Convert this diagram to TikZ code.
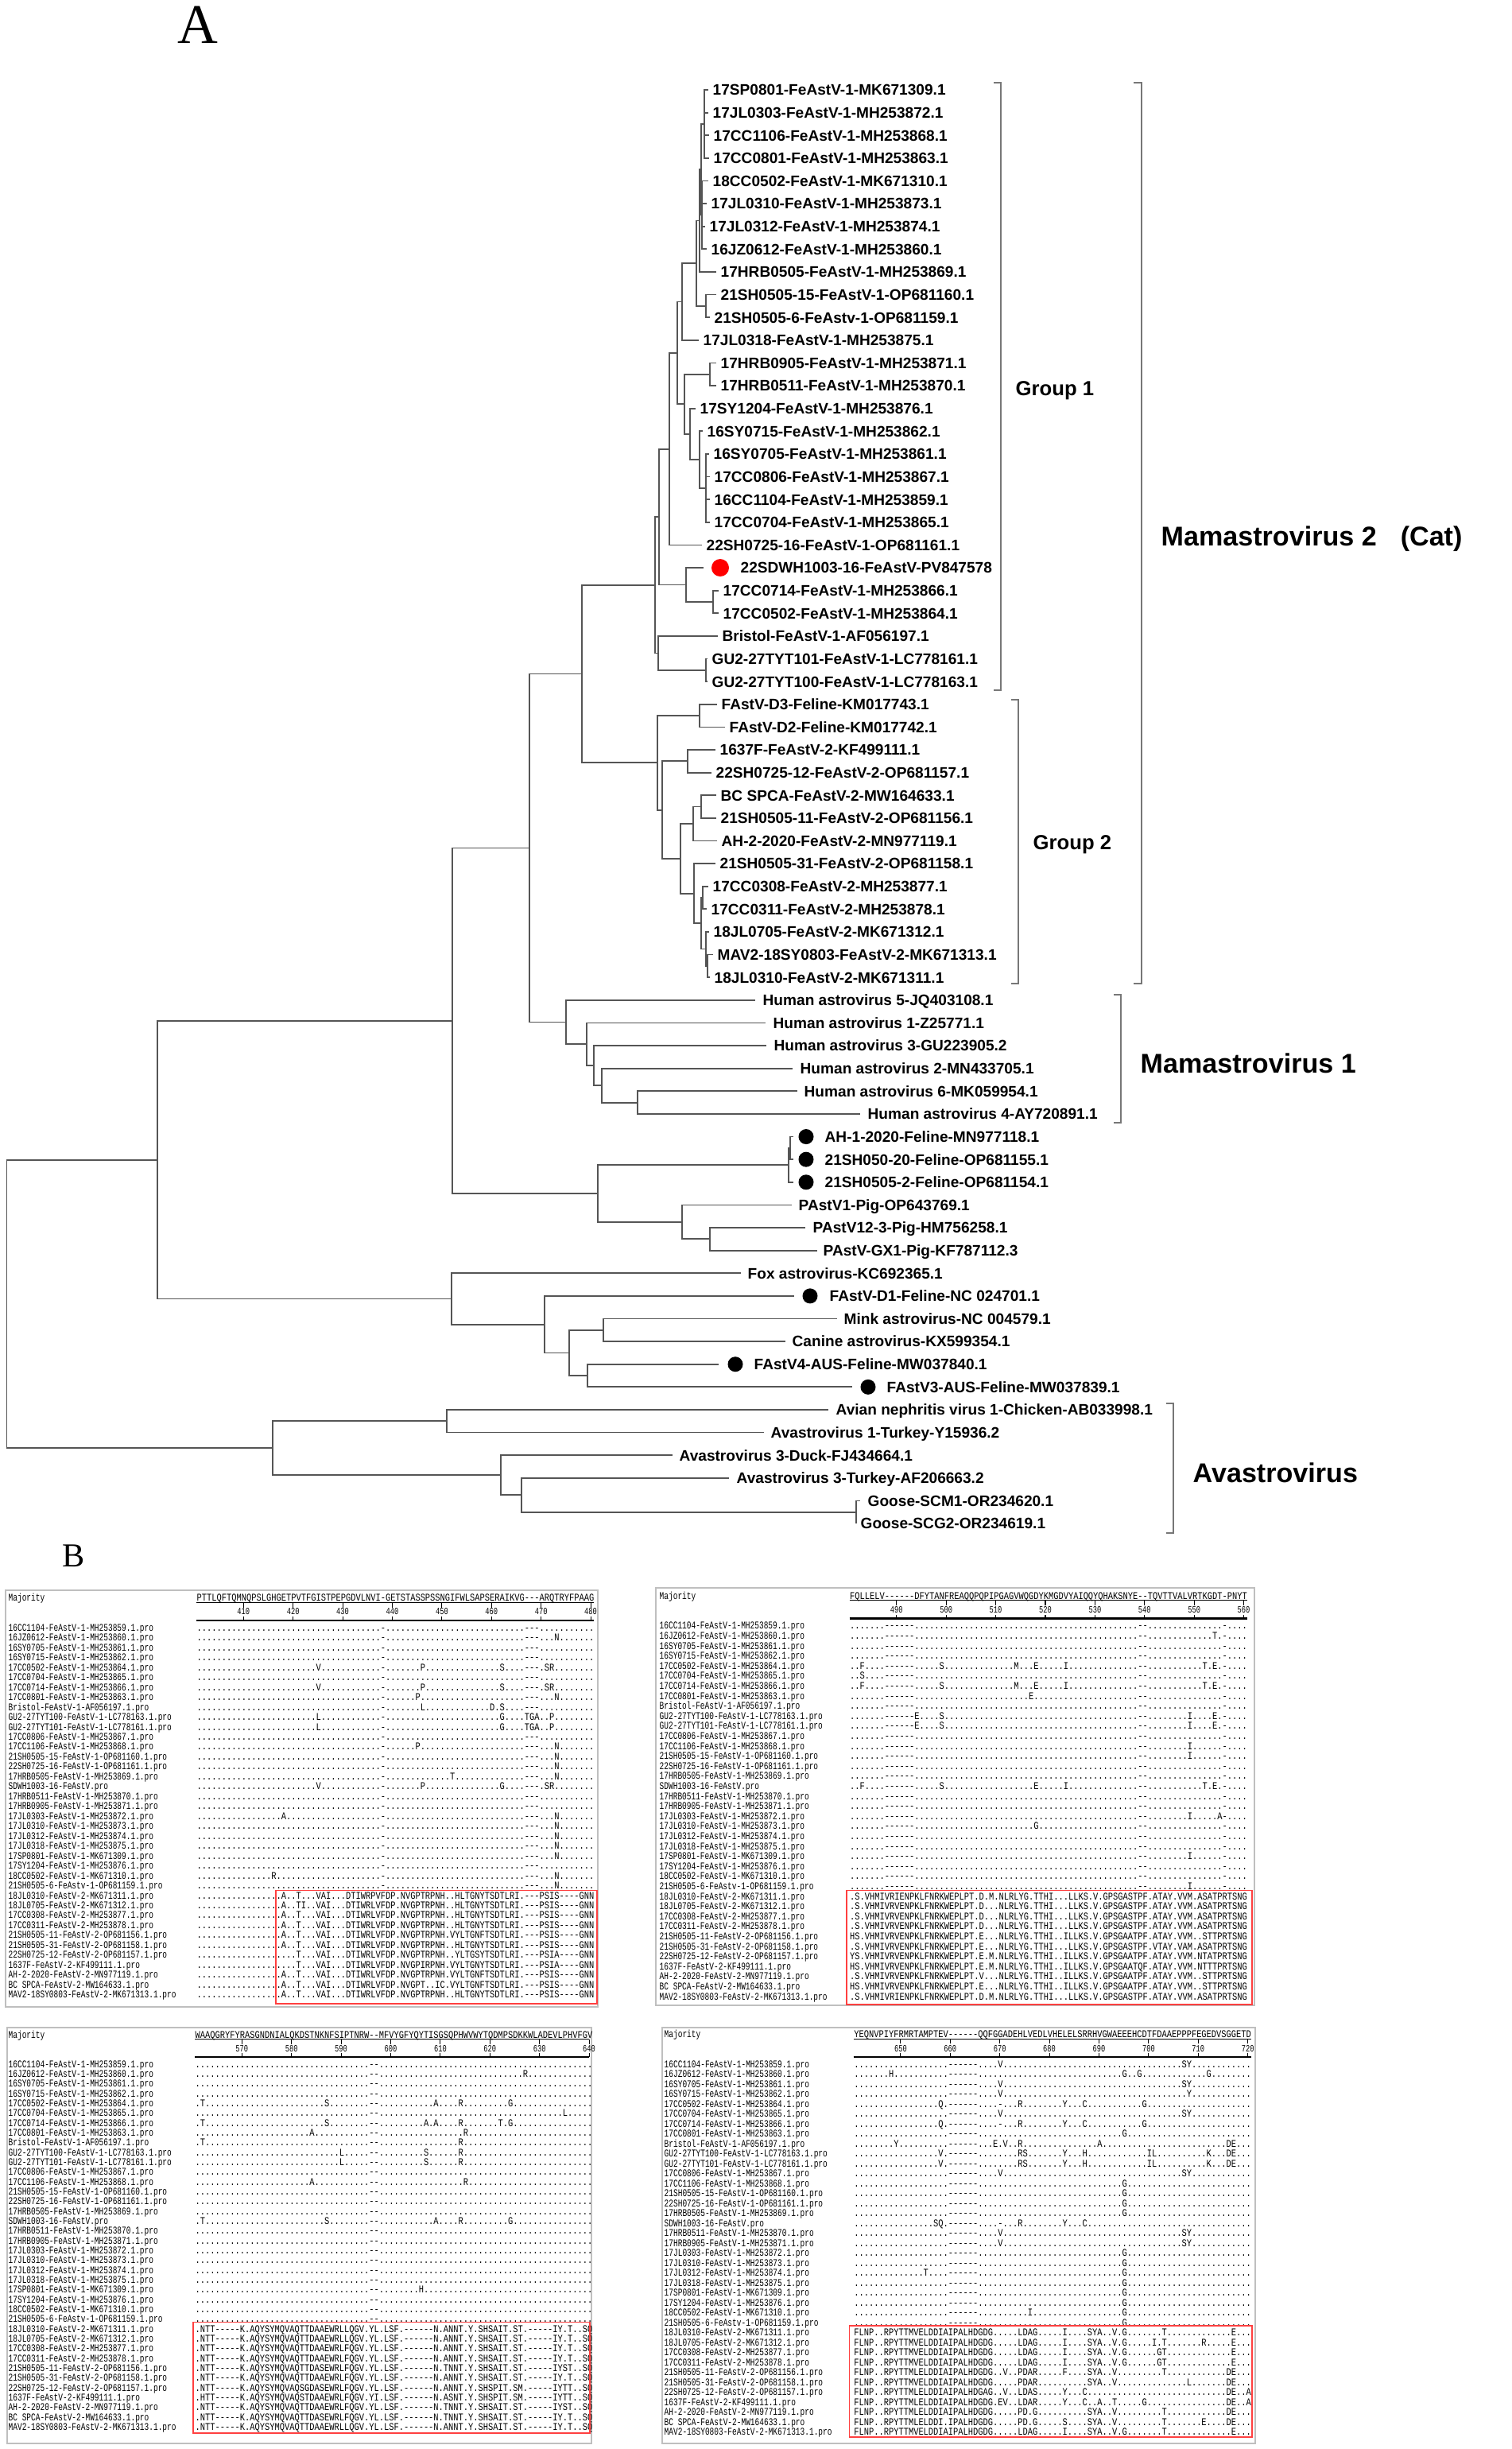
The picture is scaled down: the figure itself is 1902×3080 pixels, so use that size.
\documentclass[tikz,border=0pt]{standalone}
\usepackage{fontspec}
\setmainfont{Liberation Sans}
\newfontfamily\seqfam[FakeStretch=0.8,Ligatures=TeXOff]{Liberation Mono}
\newfontfamily\namefam[FakeStretch=0.73,Ligatures=TeXOff]{Liberation Mono}
\newfontfamily\letterfam{Liberation Serif}
\usetikzlibrary{calc}

\definecolor{treeline}{HTML}{555555}
\definecolor{brkline}{HTML}{777777}
\newcommand\leaffont{\bfseries\fontsize{5.43}{6}\selectfont}
\newcommand\seqfont{\seqfam\fontsize{3.7}{4}\selectfont}
\newcommand\namefont{\namefam\fontsize{3.7}{4}\selectfont}
\newcommand\numfont{\namefam\fontsize{3.4}{4}\selectfont}

\newcommand\dten{..........}
\newcommand\dfive{.....}
\newcommand\tldef{\dten\dten\dten\dfive..-\dten\dten\dfive...---\dten.}
\newcommand\trdef{\dfive..------\dten\dten\dten\dten\dfive--\dten\dfive-....}
\newcommand\bldef{\dten\dten\dten\dfive--\dten\dten\dten\dten...}
\newcommand\brdef{\dten\dfive....------\dten\dten\dten\dten\dten\dfive}

% a row of the alignment: the default row with some columns replaced (pos=char)
\ExplSyntaxOn
\tl_new:N \l_aln_row_tl
\clist_new:N \l_aln_subs_clist
\cs_new_protected:Npn \__aln_put:w #1 = #2 \q_stop
  {
    \tl_set:Nx \l_aln_row_tl
      {
        \tl_range:Nnn \l_aln_row_tl {1} { \int_eval:n {#1-1} }
        #2
        \tl_range:Nnn \l_aln_row_tl { \int_eval:n {#1+1} } {-1}
      }
  }
\NewDocumentCommand \alnrow { m m }
  {
    \tl_set:Nx \l_aln_row_tl {#1}
    \clist_set:Nx \l_aln_subs_clist {#2}
    \clist_map_inline:Nn \l_aln_subs_clist { \__aln_put:w ##1 \q_stop }
    \tl_use:N \l_aln_row_tl
  }
\ExplSyntaxOff

\newcommand\seqnames{1/16CC1104-FeAstV-1-MH253859.1.pro,2/16JZ0612-FeAstV-1-MH253860.1.pro,
3/16SY0705-FeAstV-1-MH253861.1.pro,4/16SY0715-FeAstV-1-MH253862.1.pro,
5/17CC0502-FeAstV-1-MH253864.1.pro,6/17CC0704-FeAstV-1-MH253865.1.pro,
7/17CC0714-FeAstV-1-MH253866.1.pro,8/17CC0801-FeAstV-1-MH253863.1.pro,
9/Bristol-FeAstV-1-AF056197.1.pro,10/GU2-27TYT100-FeAstV-1-LC778163.1.pro,
11/GU2-27TYT101-FeAstV-1-LC778161.1.pro,12/17CC0806-FeAstV-1-MH253867.1.pro,
13/17CC1106-FeAstV-1-MH253868.1.pro,14/21SH0505-15-FeAstV-1-OP681160.1.pro,
15/22SH0725-16-FeAstV-1-OP681161.1.pro,16/17HRB0505-FeAstV-1-MH253869.1.pro,
17/SDWH1003-16-FeAstV.pro,18/17HRB0511-FeAstV-1-MH253870.1.pro,
19/17HRB0905-FeAstV-1-MH253871.1.pro,20/17JL0303-FeAstV-1-MH253872.1.pro,
21/17JL0310-FeAstV-1-MH253873.1.pro,22/17JL0312-FeAstV-1-MH253874.1.pro,
23/17JL0318-FeAstV-1-MH253875.1.pro,24/17SP0801-FeAstV-1-MK671309.1.pro,
25/17SY1204-FeAstV-1-MH253876.1.pro,26/18CC0502-FeAstV-1-MK671310.1.pro,
27/21SH0505-6-FeAstv-1-OP681159.1.pro,28/18JL0310-FeAstV-2-MK671311.1.pro,
29/18JL0705-FeAstV-2-MK671312.1.pro,30/17CC0308-FeAstV-2-MH253877.1.pro,
31/17CC0311-FeAstV-2-MH253878.1.pro,32/21SH0505-11-FeAstV-2-OP681156.1.pro,
33/21SH0505-31-FeAstV-2-OP681158.1.pro,34/22SH0725-12-FeAstV-2-OP681157.1.pro,
35/1637F-FeAstV-2-KF499111.1.pro,36/AH-2-2020-FeAstV-2-MN977119.1.pro,
37/BC SPCA-FeAstV-2-MW164633.1.pro,38/MAV2-18SY0803-FeAstV-2-MK671313.1.pro}

\tikzset{
    br/.style={draw=treeline, line width=0.5pt},
    brk/.style={draw=brkline, line width=0.6pt},
    leaf/.style={anchor=west, inner sep=0pt, text height=3.9pt, text depth=0pt, font=\leaffont},
    grp/.style={anchor=west, inner sep=0pt, font=\bfseries\fontsize{7.3}{8}\selectfont},
    clade/.style={anchor=west, inner sep=0pt, font=\bfseries\fontsize{9.7}{11}\selectfont},
    rdot/.style={circle, fill=red, inner sep=0pt, minimum size=0.22cm},
    kdot/.style={circle, fill=black, inner sep=0pt, minimum size=0.19cm},
    seq/.style={anchor=base west, inner sep=0pt, text height=2.6pt, text depth=0.4pt, font=\seqfont},
    nm/.style={anchor=base west, inner sep=0pt, text height=2.6pt, text depth=0.4pt, font=\namefont},
    num/.style={anchor=base, inner sep=0pt, font=\numfont},
    rul/.style={draw=black, line width=0.3pt},
    rulb/.style={draw=black, line width=0.8pt},
    frame/.style={draw=black!25, line width=0.6pt},
    redbox/.style={draw=red!75, line width=0.5pt},
    panel/.style={inner sep=0pt, font=\letterfam}
}

\begin{document}
\begin{tikzpicture}[x=0.01cm, y=-0.01cm]
    \useasboundingbox (0,0) rectangle (1902,3080);
    \fill[white] (0,0) rectangle (1902,3080);

    % panel letters
    \node[panel, font=\letterfam\fontsize{20}{22}\selectfont] (lblA) at (249,31) {A};
    \node[panel, font=\letterfam\fontsize{12}{14}\selectfont] (lblB) at (93,1957) {B};

    % leaf tips and labels
    \foreach \i/\tx/\lx/\lab in {
        1/891/896/17SP0801-FeAstV-1-MK671309.1, 2/891/896/17JL0303-FeAstV-1-MH253872.1,
        3/892/897/17CC1106-FeAstV-1-MH253868.1, 4/892/897/17CC0801-FeAstV-1-MH253863.1,
        5/891/896/18CC0502-FeAstV-1-MK671310.1, 6/889/894/17JL0310-FeAstV-1-MH253873.1,
        7/887/892/17JL0312-FeAstV-1-MH253874.1, 8/889/894/16JZ0612-FeAstV-1-MH253860.1,
        9/901/906/17HRB0505-FeAstV-1-MH253869.1, 10/901/906/21SH0505-15-FeAstV-1-OP681160.1,
        11/893/898/21SH0505-6-FeAstv-1-OP681159.1, 12/879/884/17JL0318-FeAstV-1-MH253875.1,
        13/901/906/17HRB0905-FeAstV-1-MH253871.1, 14/901/906/17HRB0511-FeAstV-1-MH253870.1,
        15/875/880/17SY1204-FeAstV-1-MH253876.1, 16/884/889/16SY0715-FeAstV-1-MH253862.1,
        17/892/897/16SY0705-FeAstV-1-MH253861.1, 18/893/898/17CC0806-FeAstV-1-MH253867.1,
        19/893/898/16CC1104-FeAstV-1-MH253859.1, 20/893/898/17CC0704-FeAstV-1-MH253865.1,
        21/883/888/22SH0725-16-FeAstV-1-OP681161.1, 22/885/931/22SDWH1003-16-FeAstV-PV847578,
        23/904/909/17CC0714-FeAstV-1-MH253866.1, 24/904/909/17CC0502-FeAstV-1-MH253864.1,
        25/903/908/Bristol-FeAstV-1-AF056197.1, 26/890/895/GU2-27TYT101-FeAstV-1-LC778161.1,
        27/890/895/GU2-27TYT100-FeAstV-1-LC778163.1, 28/902/907/FAstV-D3-Feline-KM017743.1,
        29/912/917/FAstV-D2-Feline-KM017742.1, 30/900/905/1637F-FeAstV-2-KF499111.1,
        31/895/900/22SH0725-12-FeAstV-2-OP681157.1, 32/901/906/BC SPCA-FeAstV-2-MW164633.1,
        33/901/906/21SH0505-11-FeAstV-2-OP681156.1, 34/902/907/AH-2-2020-FeAstV-2-MN977119.1,
        35/900/905/21SH0505-31-FeAstV-2-OP681158.1, 36/891/896/17CC0308-FeAstV-2-MH253877.1,
        37/889/894/17CC0311-FeAstV-2-MH253878.1, 38/892/897/18JL0705-FeAstV-2-MK671312.1,
        39/897/902/MAV2-18SY0803-FeAstV-2-MK671313.1, 40/893/898/18JL0310-FeAstV-2-MK671311.1,
        41/950/959/Human astrovirus 5-JQ403108.1, 42/963/972/Human astrovirus 1-Z25771.1,
        43/964/973/Human astrovirus 3-GU223905.2, 44/997/1006/Human astrovirus 2-MN433705.1,
        45/1003/1011/Human astrovirus 6-MK059954.1, 46/1082/1091/Human astrovirus 4-AY720891.1,
        47/998/1037/AH-1-2020-Feline-MN977118.1, 48/998/1037/21SH050-20-Feline-OP681155.1,
        49/998/1037/21SH0505-2-Feline-OP681154.1, 50/996/1004/PAstV1-Pig-OP643769.1,
        51/1013/1022/PAstV12-3-Pig-HM756258.1, 52/1028/1035/PAstV-GX1-Pig-KF787112.3,
        53/932/940/Fox astrovirus-KC692365.1, 54/999/1043/FAstV-D1-Feline-NC 024701.1,
        55/1053/1061/Mink astrovirus-NC 004579.1, 56/988/996/Canine astrovirus-KX599354.1,
        57/904/948/FAstV4-AUS-Feline-MW037840.1, 58/1072/1115/FAstV3-AUS-Feline-MW037839.1,
        59/1042/1051/Avian nephritis virus 1-Chicken-AB033998.1, 60/961/969/Avastrovirus 1-Turkey-Y15936.2,
        61/846/854/Avastrovirus 3-Duck-FJ434664.1, 62/917/926/Avastrovirus 3-Turkey-AF206663.2,
        63/1082/1091/Goose-SCM1-OR234620.1, 64/1077/1082/Goose-SCG2-OR234619.1} {
        \coordinate (L\i) at (\tx, {113+(\i-1)*28.62});
        \node[leaf] (T\i) at (\lx, {113+(\i-1)*28.62}) {\lab};
    }
    \node[rdot] (dot22) at (906, {113+21*28.62}) {};
    \foreach \i/\xd in {47/1014, 48/1014, 49/1014, 54/1019, 57/925, 58/1092}
        \node[kdot] (dot\i) at (\xd, {113+(\i-1)*28.62}) {};

    % inner nodes
    \coordinate (Na1) at (886,156.0);   \coordinate (Na2) at (883,270.4);
    \coordinate (Na) at (882,213.2);    \coordinate (Nb) at (880,277.6);
    \coordinate (Nc) at (888,384.9);    \coordinate (Nd) at (876,331.3);
    \coordinate (Ne) at (858,379.5);    \coordinate (Nf) at (893,470.8);
    \coordinate (Ng) at (888,613.8);    \coordinate (Nh) at (880,578.1);
    \coordinate (Ni) at (868,545.9);    \coordinate (Nj) at (861,508.3);
    \coordinate (Nk) at (852,443.9);    \coordinate (Nl) at (842,564.7);
    \coordinate (Nr2) at (897,757.0);   \coordinate (Nr) at (863,735.5);
    \coordinate (Nm) at (829,650.1);    \coordinate (Ngu) at (888,842.8);
    \coordinate (Nn) at (828,821.4);    \coordinate (NG1) at (824,735.7);
    \coordinate (Pa) at (880,900.0);    \coordinate (Pb) at (865,957.3);
    \coordinate (Pc) at (882,1014.5);   \coordinate (Pd) at (872,1036.0);
    \coordinate (Pe) at (884,1129.0);   \coordinate (Pf) at (890,1214.9);
    \coordinate (Pg) at (888,1193.4);   \coordinate (Ph) at (882,1161.2);
    \coordinate (Pi) at (873,1123.7);   \coordinate (Pj) at (856,1079.8);
    \coordinate (Pk) at (833,1018.6);   \coordinate (NG2) at (827,959.3);
    \coordinate (F) at (732,847.5);
    \coordinate (G5) at (802,1386.6);   \coordinate (G4) at (757,1365.1);
    \coordinate (G3) at (747,1340.1);   \coordinate (G2) at (738,1313.2);
    \coordinate (G) at (712,1285.5);    \coordinate (D) at (666,1066.5);
    \coordinate (E0) at (994,1443.8);   \coordinate (E1) at (992,1465.3);
    \coordinate (E3) at (893,1558.3);   \coordinate (E2) at (858,1536.9);
    \coordinate (E) at (752,1501.1);    \coordinate (B) at (569,1283.8);
    \coordinate (C4) at (759,1672.8);   \coordinate (C5) at (739,1730.0);
    \coordinate (C3) at (716,1701.4);   \coordinate (C2) at (685,1665.6);
    \coordinate (C) at (568,1633.4);    \coordinate (A) at (198,1458.6);
    \coordinate (V1) at (562,1787.3);   \coordinate (V4) at (1077,1901.7);
    \coordinate (V3) at (656,1880.3);   \coordinate (V2) at (630,1855.2);
    \coordinate (V) at (343,1821.2);    \coordinate (root) at (8.5,1639.9);

    % branches
    \foreach \p/\q in {Na1/L1, Na1/L2, Na1/L3, Na1/L4, Na2/L5, Na2/L6, Na2/L7, Na2/L8,
        Na/Na1, Na/Na2, Nb/Na, Nb/L9, Nc/L10, Nc/L11, Nd/Nb, Nd/Nc, Ne/Nd, Ne/L12,
        Nf/L13, Nf/L14, Ng/L17, Ng/L18, Ng/L19, Ng/L20, Nh/L16, Nh/Ng, Ni/L15, Ni/Nh,
        Nj/Nf, Nj/Ni, Nk/Ne, Nk/Nj, Nl/Nk, Nl/L21, Nr2/L23, Nr2/L24, Nr/L22, Nr/Nr2,
        Nm/Nl, Nm/Nr, Ngu/L26, Ngu/L27, Nn/L25, Nn/Ngu, NG1/Nm, NG1/Nn,
        Pa/L28, Pa/L29, Pb/L30, Pb/L31, Pc/L32, Pc/L33, Pd/Pc, Pd/L34, Pe/L36, Pe/L37,
        Pf/L39, Pf/L40, Pg/L38, Pg/Pf, Ph/Pe, Ph/Pg, Pi/L35, Pi/Ph, Pj/Pd, Pj/Pi,
        Pk/Pb, Pk/Pj, NG2/Pa, NG2/Pk, F/NG1, F/NG2,
        G5/L45, G5/L46, G4/L44, G4/G5, G3/L43, G3/G4, G2/L42, G2/G3, G/L41, G/G2,
        D/F, D/G, E0/L47, E0/L48, E1/E0, E1/L49, E3/L51, E3/L52, E2/L50, E2/E3,
        E/E1, E/E2, B/D, B/E, C4/L55, C4/L56, C5/L57, C5/L58, C3/C4, C3/C5,
        C2/L54, C2/C3, C/L53, C/C2, A/B, A/C, V1/L59, V1/L60, V4/L63, V4/L64,
        V3/L62, V3/V4, V2/L61, V2/V3, V/V1, V/V2, root/A, root/V}
        \draw[br] (\p) |- (\q);

    % clade brackets
    \draw[brk] (1250,104) -- (1259,104) -- (1259,868) -- (1250,868);
    \draw[brk] (1272,880) -- (1281,880) -- (1281,1237) -- (1272,1237);
    \draw[brk] (1426,104) -- (1436,104) -- (1436,1237) -- (1426,1237);
    \draw[brk] (1401,1251) -- (1410,1251) -- (1410,1412) -- (1401,1412);
    \draw[brk] (1467,1765) -- (1476,1765) -- (1476,1928) -- (1467,1928);
    \node[grp] (grp1) at (1277,491) {Group 1};
    \node[grp] (grp2) at (1299,1062) {Group 2};
    \node[clade] (mam2) at (1460,678) {Mamastrovirus 2\hspace{0.3cm}(Cat)};
    \node[clade] (mam1) at (1434,1337) {Mamastrovirus 1};
    \node[clade] (ava) at (1500,1852) {Avastrovirus};

    % ---------------- panel B, top left
    \draw[frame] (7,2000) rectangle (752,2524);
    \node[nm] (tlmaj) at (10,2013.9) {Majority};
    \node[seq] (tlcon) at (247,2013.9) {PTTLQFTQMNQPSLGHGETPVTFGISTPEPGDVLNVI-GETSTASSPSSNGIFWLSAPSERAIKVG---ARQTRYFPAAG};
    \draw[rul] (247,2015.5) -- (747,2015.5);
    \draw[rulb] (247,2038) -- (747,2038);
    \foreach \k in {1,...,8} {
        \draw[rul] ({247+(10*\k-0.5)*6.24},2015.5) -- ++(0,6);
        \draw[rul] ({247+(10*\k-0.5)*6.24},2038) -- ++(0,-5);
        \node[num] (tln\k) at ({247+(10*\k-0.5)*6.24},2030.5) {\the\numexpr400+10*\k\relax};
    }
    \foreach \rw/\sn in \seqnames
        \node[nm] (tlm\rw) at (10,{2051.3+(\rw-1)*12.47}) {\sn};
    \foreach \rw/\vars in {1/{}, 2/{73=N}, 3/{}, 4/{}, 5/{25=V,46=P,62=S,71=S,72=R}, 6/{},
        7/{25=V,46=P,62=S,71=S,72=R}, 8/{45=P,73=N}, 9/{46=L,60=D,62=S},
        10/{25=L,62=G,67=T,68=G,69=A,72=P}, 11/{25=L,62=G,67=T,68=G,69=A,72=P}, 12/{},
        13/{45=P,73=N}, 14/{73=N}, 15/{73=N}, 16/{52=T,73=N}, 17/{25=V,46=P,62=G,71=S,72=R},
        18/{}, 19/{}, 20/{18=A,73=N}, 21/{73=N}, 22/{73=N}, 23/{73=N}, 24/{73=N}, 25/{},
        26/{16=R,73=N}, 27/{73=N}}
        \node[seq] (tls\rw) at (247,{2051.3+(\rw-1)*12.47}) {\alnrow{\tldef}{\vars}};
    \node[seq] (tls28) at (247,{2051.3+27*12.47}) {\dten\dfive..A..T...VAI...DTIWRPVFDP.NVGPTRPNH..HLTGNYTSDTLRI.---PSIS----GNN};
    \node[seq] (tls29) at (247,{2051.3+28*12.47}) {\dten\dfive..A..TI..VAI...DTIWRLVFDP.NVGPTRPNH..HLTGNYTSDTLRI.---PSIS----GNN};
    \node[seq] (tls30) at (247,{2051.3+29*12.47}) {\dten\dfive..A..T...VAI...DTIWRLVFDP.NVGPTRPNH..HLTGNYTSDTLRI.---PSIS----GNN};
    \node[seq] (tls31) at (247,{2051.3+30*12.47}) {\dten\dfive..A..T...VAI...DTIWRLVFDP.NVGPTRPNH..HLTGNYTSDTLRI.---PSIS----GNN};
    \node[seq] (tls32) at (247,{2051.3+31*12.47}) {\dten\dfive..A..T...VAI...DTIWRLVFDP.NVGPTRPNH.VYLTGNFTSDTLRI.---PSIS----GNN};
    \node[seq] (tls33) at (247,{2051.3+32*12.47}) {\dten\dfive..A..T...VAI...DTIWRLVFDP.NVGPTRPNH..HLTGNYTSDTLRI.---PSIS----GNN};
    \node[seq] (tls34) at (247,{2051.3+33*12.47}) {\dten\dfive.....T...VAI...DTIWRLVFDP.NVGPTRPNH..YLTGSYTSDTLRI.---PSIA----GNN};
    \node[seq] (tls35) at (247,{2051.3+34*12.47}) {\dten\dfive.....T...VAI...DTIWRLVFDP.NVGPIRPNH.VYLTGNYTSDTLRI.---PSIA----GNN};
    \node[seq] (tls36) at (247,{2051.3+35*12.47}) {\dten\dfive..A..T...VAI...DTIWRLVFDP.NVGPTRPNH.VYLTGNFTSDTLRI.---PSIS----GNN};
    \node[seq] (tls37) at (247,{2051.3+36*12.47}) {\dten\dfive..A..T...VAI...DTIWRLVFDP.NVGPT..IC.VYLTGNFTSDTLRI.---PSIS----GNN};
    \node[seq] (tls38) at (247,{2051.3+37*12.47}) {\dten\dfive..A..T...VAI...DTIWRLVFDP.NVGPTRPNH..HLTGNYTSDTLRI.---PSIS----GNN};
    \draw[redbox] (347,2377.5) rectangle (751,2520);

    % ---------------- panel B, top right
    \draw[frame] (825,1997) rectangle (1578,2522);
    \node[nm] (trmaj) at (829,2011) {Majority};
    \node[seq] (trcon) at (1068.5,2011) {FQLLELV------DFYTANFREAQQPQPIPGAGVWQGDYKMGDVYAIQQYQHAKSNYE--TQVTTVALVRTKGDT-PNYT};
    \draw[rul] (1068.5,2012.5) -- (1568.5,2012.5);
    \draw[rulb] (1068.5,2035.7) -- (1568.5,2035.7);
    \foreach \k in {1,...,8} {
        \draw[rul] ({1068.5+(10*\k-0.5)*6.24},2012.5) -- ++(0,6);
        \draw[rul] ({1068.5+(10*\k-0.5)*6.24},2035.7) -- ++(0,-5);
        \node[num] (trn\k) at ({1068.5+(10*\k-0.5)*6.24},2028.7) {\the\numexpr480+10*\k\relax};
    }
    \foreach \rw/\sn in \seqnames
        \node[nm] (trm\rw) at (829,{2048.9+(\rw-1)*12.6}) {\sn};
    \foreach \rw/\vars in {1/{}, 2/{74=T}, 3/{}, 4/{}, 5/{3=F,19=S,34=M,38=E,44=I,72=T,74=E},
        6/{3=S}, 7/{3=F,19=S,34=M,38=E,44=I,72=T,74=E}, 8/{37=E}, 9/{},
        10/{14=E,19=S,69=I,74=E}, 11/{14=E,19=S,69=I,74=E}, 12/{}, 13/{69=I}, 14/{69=I},
        15/{}, 16/{}, 17/{3=F,19=S,38=E,44=I,72=T,74=E}, 18/{}, 19/{}, 20/{69=I,75=A},
        21/{38=G}, 22/{}, 23/{}, 24/{69=I}, 25/{}, 26/{}, 27/{69=I}}
        \node[seq] (trs\rw) at (1068.5,{2048.9+(\rw-1)*12.6}) {\alnrow{\trdef}{\vars}};
    \node[seq] (trs28) at (1068.5,{2048.9+27*12.6}) {.S.VHMIVRIENPKLFNRKWEPLPT.D.M.NLRLYG.TTHI...LLKS.V.GPSGASTPF.ATAY.VVM.ASATPRTSNG};
    \node[seq] (trs29) at (1068.5,{2048.9+28*12.6}) {.S.VHMIVRVENPKLFNRKWEPLPT.D...NLRLYG.TTHI...LLKS.V.GPSGASTPF.ATAY.VVM.ASATPRTSNG};
    \node[seq] (trs30) at (1068.5,{2048.9+29*12.6}) {.S.VHMIVRVENPKLFNRKWEPLPT.D...NLRLYG.TTHI...LLKS.V.GPSGASTPF.ATAY.VVM.ASATPRTSNG};
    \node[seq] (trs31) at (1068.5,{2048.9+30*12.6}) {.S.VHMIVRVENPKLFNRKWEPLPT.D...NLRLYG.TTHI...LLKS.V.GPSGASTPF.ATAY.VVM.ASATPRTSNG};
    \node[seq] (trs32) at (1068.5,{2048.9+31*12.6}) {HS.VHMIVRVENPKLFNRKWEPLPT.E...NLRLYG.TTHI..ILLKS.V.GPSGAATPF.ATAY.VVM..STTPRTSNG};
    \node[seq] (trs33) at (1068.5,{2048.9+32*12.6}) {.S.VHMIVRVENPKLFNRKWEPLPT.E...NLRLYG.TTHI...LLKS.V.GPSGASTPF.VTAY.VAM.ASATPRTSNG};
    \node[seq] (trs34) at (1068.5,{2048.9+33*12.6}) {YS.VHMIVRVENPKLFNRKWEPLPT.E.M.NLRLYG.TTHI..ILLKS.V.GPSGAATPF.ATAY.VVM.NTATPRTSNG};
    \node[seq] (trs35) at (1068.5,{2048.9+34*12.6}) {HS.VHMIVRVENPKLFNRKWEPLPT.E.M.NLRLYG.TTHI..ILLKS.V.GPSGAATQF.ATAY.VVM.NTTTPRTSNG};
    \node[seq] (trs36) at (1068.5,{2048.9+35*12.6}) {.S.VHMIVRVENPKLFNRKWEPLPT.V...NLRLYG.TTHI..ILLKS.V.GPSGAATPF.ATAY.VVM..STTPRTSNG};
    \node[seq] (trs37) at (1068.5,{2048.9+36*12.6}) {HS.VHMIVRVENPKLFNRKWEPLPT.E...NLRLYG.TTHI..ILLKS.V.GPSGAATPF.ATAY.VVM..STTPRTSNG};
    \node[seq] (trs38) at (1068.5,{2048.9+37*12.6}) {.S.VHMIVRIENPKLFNRKWEPLPT.D.M.NLRLYG.TTHI...LLKS.V.GPSGASTPF.ATAY.VVM.ASATPRTSNG};
    \draw[redbox] (1065,2377.5) rectangle (1575,2521);

    % ---------------- panel B, bottom left
    \draw[frame] (9,2550) rectangle (744,3073);
    \node[nm] (blmaj) at (10,2563) {Majority};
    \node[seq] (blcon) at (245,2563) {WAAQGRYFYRASGNDNIALQKDSTNKNFSIPTNRW--MFVYGFYQYTISGSQPHWVWYTQDMPSDKKWLADEVLPHVFGV};
    \draw[rul] (245,2564.8) -- (741,2564.8);
    \draw[rulb] (245,2587) -- (741,2587);
    \foreach \k in {1,...,8} {
        \draw[rul] ({245+(10*\k-0.5)*6.24},2564.8) -- ++(0,6);
        \draw[rul] ({245+(10*\k-0.5)*6.24},2587) -- ++(0,-5);
        \node[num] (bln\k) at ({245+(10*\k-0.5)*6.24},2580) {\the\numexpr560+10*\k\relax};
    }
    \foreach \rw/\sn in \seqnames
        \node[nm] (blm\rw) at (10,{2600.1+(\rw-1)*12.33}) {\sn};
    \foreach \rw/\vars in {1/{}, 2/{67=R}, 3/{}, 4/{}, 5/{2=T,27=S,49=A,54=R,64=G}, 6/{75=L},
        7/{2=T,27=S,47=A,49=A,54=R,62=T,64=G}, 8/{24=A,55=R}, 9/{2=T,54=R},
        10/{30=L,47=S,54=R}, 11/{30=L,47=S,54=R}, 12/{}, 13/{24=A,55=R}, 14/{}, 15/{},
        16/{}, 17/{2=T,27=S,49=A,54=R,64=G}, 18/{}, 19/{}, 20/{}, 21/{}, 22/{}, 23/{},
        24/{46=H}, 25/{}, 26/{}, 27/{}}
        \node[seq] (bls\rw) at (245,{2600.1+(\rw-1)*12.33}) {\alnrow{\bldef}{\vars}};
    \node[seq] (bls28) at (245,{2600.1+27*12.33}) {.NTT-----K.AQYSYMQVAQTTDAAEWRLLQGV.YL.LSF.------N.ANNT.Y.SHSAIT.ST.-----IY.T..SQ};
    \node[seq] (bls29) at (245,{2600.1+28*12.33}) {.NTT-----K.AQYSYMQVAQTTDAAEWRLLQGV.YL.LSF.------N.ANNT.Y.SHSAIT.ST.-----IY.T..SQ};
    \node[seq] (bls30) at (245,{2600.1+29*12.33}) {.NTT-----K.AQYSYMQVAQTTDAAEWRLFQGV.YL.LSF.------N.ANNT.Y.SHSAIT.ST.-----IY.T..SQ};
    \node[seq] (bls31) at (245,{2600.1+30*12.33}) {.NTT-----K.AQYSYMQVAQTTDAAEWRLFQGV.YL.LSF.------N.ANNT.Y.SHSAIT.ST.-----IY.T..SQ};
    \node[seq] (bls32) at (245,{2600.1+31*12.33}) {.NTT-----K.AQYSYMQVAQTTDASEWRLFQGV.YL.LSF.------N.TNNT.Y.SHSAIT.ST.-----IYST..SQ};
    \node[seq] (bls33) at (245,{2600.1+32*12.33}) {.NTT-----K.AQYSYMQVAQTTDAAEWRLFQGV.YL.LSF.------N.ANNT.Y.SHSAIT.ST.-----IY.T..SQ};
    \node[seq] (bls34) at (245,{2600.1+33*12.33}) {.NTT-----K.AQYSYMQVAQSGDASEWRLFQGV.YL.LSF.------N.ANNT.Y.SHSPIT.SM.-----IYTT..SQ};
    \node[seq] (bls35) at (245,{2600.1+34*12.33}) {.HTT-----K.AQYSYMQVAQSTDAAEWRLFQGV.YI.LSF.------N.ASNT.Y.SHSPIT.SM.-----IYTT..SQ};
    \node[seq] (bls36) at (245,{2600.1+35*12.33}) {.NTT-----K.AQYSYMQVAQTTDAAEWRLFQGV.YL.LSF.------N.TNNT.Y.SHSAIT.ST.-----IYST..SQ};
    \node[seq] (bls37) at (245,{2600.1+36*12.33}) {.NTT-----K.AQYSYMQVAQTTDASEWRLFQGV.YL.LSF.------N.TNNT.Y.SHSAIT.ST.-----IY.T..SQ};
    \node[seq] (bls38) at (245,{2600.1+37*12.33}) {.NTT-----K.AQYSYMQVAQTTDAAEWRLLQGV.YL.LSF.------N.ANNT.Y.SHSAIT.ST.-----IY.T..SQ};
    \draw[redbox] (243,2920.5) rectangle (742,3060);

    % ---------------- panel B, bottom right
    \draw[frame] (833,2550) rectangle (1579,3073);
    \node[nm] (brmaj) at (835,2562) {Majority};
    \node[seq] (brcon) at (1073.6,2562) {YEQNVPIYFRMRTAMPTEV------QQFGGADEHLVEDLVHELELSRRHVGWAEEEHCDTFDAAEPPPFEGEDVSGGETD};
    \draw[rul] (1073.6,2564) -- (1573.6,2564);
    \draw[rulb] (1073.6,2587) -- (1573.6,2587);
    \foreach \k in {1,...,8} {
        \draw[rul] ({1073.6+(10*\k-0.5)*6.24},2564) -- ++(0,6);
        \draw[rul] ({1073.6+(10*\k-0.5)*6.24},2587) -- ++(0,-5);
        \node[num] (brn\k) at ({1073.6+(10*\k-0.5)*6.24},2580) {\the\numexpr640+10*\k\relax};
    }
    \foreach \rw/\sn in \seqnames
        \node[nm] (brm\rw) at (835,{2600.1+(\rw-1)*12.5}) {\sn};
    \foreach \rw/\vars in {1/{30=V,67=S,68=Y}, 2/{8=H,55=G,58=G,72=G}, 3/{30=V,67=S,68=Y},
        4/{30=V,68=Y}, 5/{18=Q,30=-,34=R,43=Y,47=C,59=G}, 6/{30=V,67=S,68=Y},
        7/{18=Q,30=-,34=R,43=Y,47=C,59=G}, 8/{55=G}, 9/{9=Y,29=E,31=V,34=R,50=A,76=D,77=E},
        10/{18=V,34=R,35=S,43=Y,47=H,60=I,61=L,72=K,76=D,77=E},
        11/{18=V,34=R,35=S,43=Y,47=H,60=I,61=L,72=K,76=D,77=E},
        12/{30=V,67=S,68=Y}, 13/{55=G}, 14/{55=G}, 15/{55=G}, 16/{55=G},
        17/{17=S,18=Q,30=-,34=R,43=Y,47=C}, 18/{30=V,67=S,68=Y}, 19/{30=V,67=S,68=Y},
        20/{55=G}, 21/{55=G}, 22/{15=T,55=G}, 23/{55=G}, 24/{55=G}, 25/{55=G},
        26/{36=I,55=G}, 27/{55=G}}
        \node[seq] (brs\rw) at (1073.6,{2600.1+(\rw-1)*12.5}) {\alnrow{\brdef}{\vars}};
    \node[seq] (brs28) at (1073.6,{2600.1+27*12.5}) {FLNP..RPYTTMVELDDIAIPALHDGDG\dfive LDAG\dfive I....SYA..V.G.......T\dten...E...};
    \node[seq] (brs29) at (1073.6,{2600.1+28*12.5}) {FLNP..RPYTTMVELDDIAIPALHDGDG\dfive LDAG\dfive I....SYA..V.G\dfive I.T.......R\dfive E...};
    \node[seq] (brs30) at (1073.6,{2600.1+29*12.5}) {FLNP..RPYTTMVELDDIAIPALHDGDG\dfive LDAG\dfive I....SYA..V.G......GT\dten...E...};
    \node[seq] (brs31) at (1073.6,{2600.1+30*12.5}) {FLNP..RPYTTMVELDDIAIPALHDGDG\dfive LDAG\dfive I....SYA..V.G......GT\dten...E...};
    \node[seq] (brs32) at (1073.6,{2600.1+31*12.5}) {FLNP..RPYTTMLELDDIAIPALHDGDG..V..PDAR\dfive F....SYA..V.........T\dten..DE...};
    \node[seq] (brs33) at (1073.6,{2600.1+32*12.5}) {FLNP..RPYTTMVELDDIAIPALHDGDG\dfive PDAR\dten SYA..V\dten....L.......DE...};
    \node[seq] (brs34) at (1073.6,{2600.1+33*12.5}) {FLNP..RPYTTMLELDDIAIPALHDGAG..V..LDAS\dfive Y...C\dten\dten........DE..A};
    \node[seq] (brs35) at (1073.6,{2600.1+34*12.5}) {FLNP..RPYTTMLELDDIAIPALHDGDG.EV..LDAR\dfive Y...C..A..T\dfive G\dten......DE..A};
    \node[seq] (brs36) at (1073.6,{2600.1+35*12.5}) {FLNP..RPYTTMLELDDIAIPALHDGDG\dfive PD.G\dten SYA..V.........T\dten..DE...};
    \node[seq] (brs37) at (1073.6,{2600.1+36*12.5}) {FLNP..RPYTTMLELDDI.IPALHDGDG\dfive PD.G\dfive S....SYA..V.........T.......E....DE...};
    \node[seq] (brs38) at (1073.6,{2600.1+37*12.5}) {FLNP..RPYTTMVELDDIAIPALHDGDG\dfive LDAG\dfive I....SYA..V.G.......T\dten...E...};
    \draw[redbox] (1068.5,2925) rectangle (1575,3065);
\end{tikzpicture}
\end{document}
